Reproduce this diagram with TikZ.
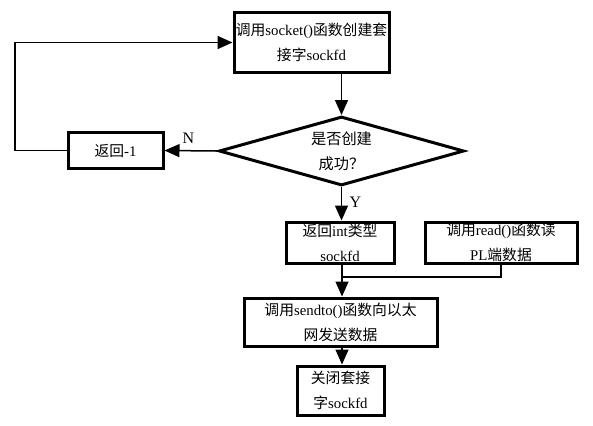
\documentclass[tikz,border=0pt]{standalone}
\usepackage{fontspec}
\setmainfont{Liberation Serif}
\newfontfamily\cjk{Noto Sans CJK SC}
\usetikzlibrary{arrows.meta,shapes.geometric}
\begin{document}
\begin{tikzpicture}[x=1pt,y=-1pt,
  box/.style={draw,line width=3pt,inner sep=0pt,align=center,font=\fontsize{14.8}{25}\selectfont},
  conn/.style={line width=1.5pt},
  arr/.style={conn,-{Triangle[length=15pt,width=13pt]}},
  lbl/.style={font=\fontsize{16}{18}\selectfont}]
\useasboundingbox (0,0) rectangle (593,425);
\node[box,minimum width=155,minimum height=60] (sock) at (311.5,42.5) {{\cjk 调用}socket(){\cjk 函数创建套}\\{\cjk 接字}sockfd};
\node[draw,line width=3pt,diamond,aspect=3.6,minimum width=245,minimum height=69,inner sep=0pt,align=center,font=\fontsize{15.2}{25}\selectfont] (dec) at (341.5,151) {{\cjk 是否创建}\\{\cjk 成功？}};
\node[box,minimum width=95,minimum height=36] (ret) at (115.5,150.5) {{\cjk 返回}-1};
\node[box,minimum width=108,minimum height=41] (intb) at (340,242.5) {{\cjk 返回}int{\cjk 类型}\\sockfd};
\node[box,minimum width=152,minimum height=41] (read) at (501,242.5) {{\cjk 调用}read(){\cjk 函数读}\\PL{\cjk 端数据}};
\node[box,minimum width=193,minimum height=48] (send) at (340.5,322) {{\cjk 调用}sendto(){\cjk 函数向以太}\\{\cjk 网发送数据}};
\node[box,minimum width=87,minimum height=49] (close) at (340.5,390.5) {{\cjk 关闭套接}\\{\cjk 字}sockfd};
\coordinate (loopa) at (15,150.5);
\coordinate (loopb) at (15,42.5);
\coordinate (join) at (342,277);
\draw[arr] (sock.south -| dec.north) -- (dec.north);
\draw[arr] (dec.west) -- (ret.east) node[lbl,pos=0.55,above=3pt] {N};
\draw[arr] (ret.west) -- (loopa) -- (loopb) -- (sock.west);
\draw[arr] (dec.south) -- (dec.south |- intb.north) node[lbl,pos=0.45,right=4pt] {Y};
\draw[conn] (read.south) |- (join);
\draw[arr] (intb.south -| join) -- (join) -- (send.north -| join);
\draw[arr] (send.south -| join) -- (close.north -| join);
\end{tikzpicture}
\end{document}
